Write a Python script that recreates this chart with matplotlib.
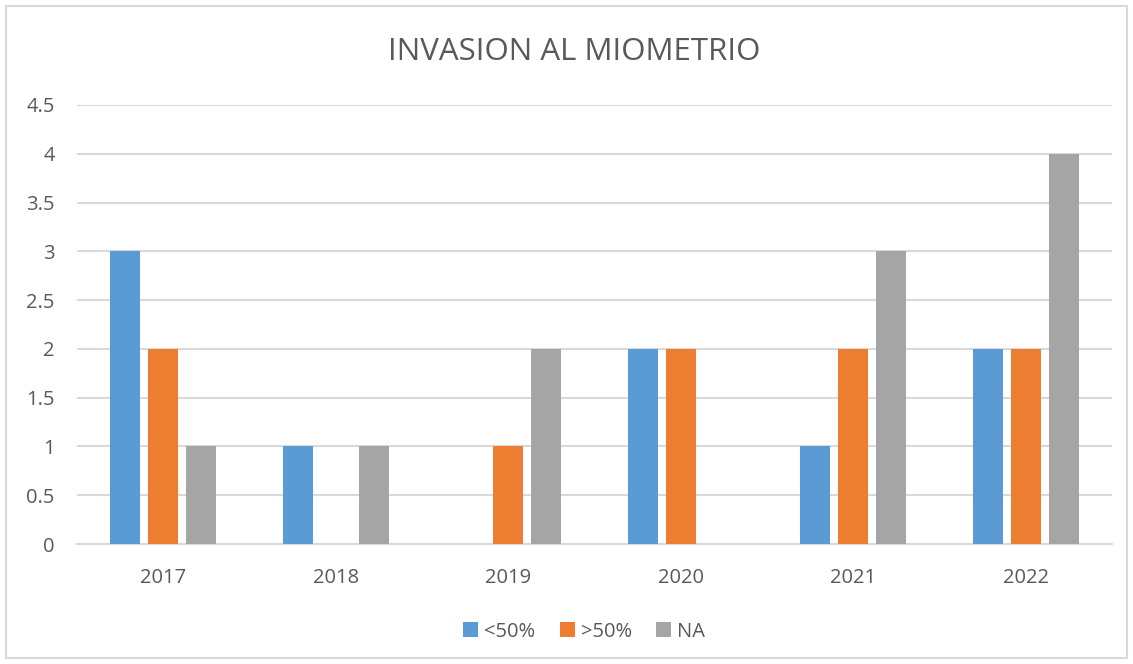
import numpy as np
import matplotlib.pyplot as plt
from matplotlib.patches import Rectangle

years = ['2017', '2018', '2019', '2020', '2021', '2022']
menor50 = [3, 1, 0, 2, 1, 2]
mayor50 = [2, 0, 1, 2, 2, 2]
na = [1, 1, 2, 0, 3, 4]

series = [('<50%', menor50, '#5B9BD5'),
          ('>50%', mayor50, '#ED7D31'),
          ('NA', na, '#A5A5A5')]

plt.rcParams['font.family'] = ['Open Sans', 'DejaVu Sans']

fig = plt.figure(figsize=(11.33, 6.64), dpi=100)
ax = fig.add_axes([0.068, 0.1807, 0.9135, 0.6612])

x = np.arange(len(years))
w = 0.175
step = 0.22
for i, (name, vals, col) in enumerate(series):
    ax.bar(x + (i - 1) * step, vals, width=w, color=col, label=name, zorder=3)

ax.set_xlim(-0.5, 5.5)
ax.set_ylim(0, 4.5)
ax.set_yticks(np.arange(0, 4.51, 0.5))
ax.set_yticklabels(['0', '0.5', '1', '1.5', '2', '2.5', '3', '3.5', '4', '4.5'])
ax.set_xticks(x)
ax.set_xticklabels(years)
ax.grid(axis='y', color='#d9d9d9', linewidth=1.5, zorder=0)
for s in ['top', 'right', 'left']:
    ax.spines[s].set_visible(False)
ax.spines['bottom'].set_color('#d9d9d9')
ax.spines['bottom'].set_linewidth(1.5)
ax.tick_params(length=0, labelsize=14.5, colors='#595959')
ax.tick_params(axis='x', pad=17)
ax.tick_params(axis='y', pad=16)

fig.text(0.507, 0.922, 'INVASION AL MIOMETRIO', ha='center', va='center',
         fontsize=22.5, color='#595959')

ax.legend(loc='center', bbox_to_anchor=(0.49, -0.2), ncol=3, frameon=False,
          fontsize=14.5, labelcolor='#595959', handlelength=0.75, handleheight=0.75,
          handletextpad=0.3, columnspacing=1.2)

fig.patches.append(Rectangle((6 / 1133, 6 / 664), 1 - 12 / 1133, 1 - 12 / 664,
                             transform=fig.transFigure, fill=False,
                             edgecolor='#d9d9d9', linewidth=1.5))

fig.savefig('out.png', dpi=100)
